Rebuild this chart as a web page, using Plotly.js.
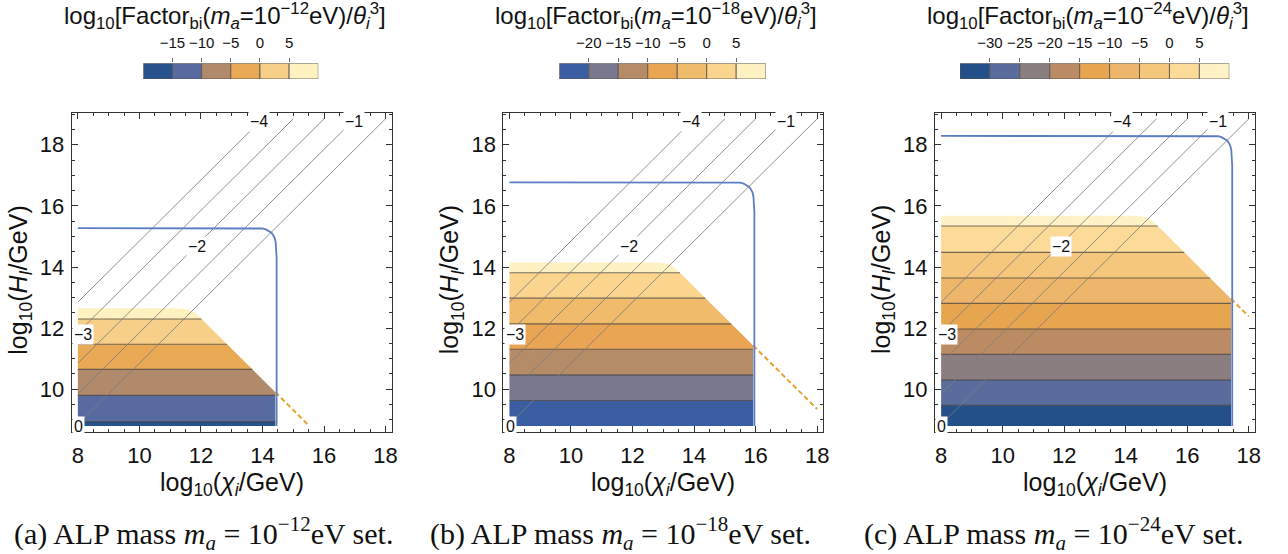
<!DOCTYPE html>
<html><head><meta charset="utf-8">
<script src="https://cdn.plot.ly/plotly-3.0.1.min.js"></script>
<style>html,body{margin:0;padding:0;background:#fff;}#chart{width:1288px;height:554px;}</style>
</head><body><div id="chart"></div>
<script>
// ================= DATA =================
const massExp = ['−12', '−18', '−24'];
const captionTags = ['(a)', '(b)', '(c)'];

// colour-bar levels of log10[Factor_bi / theta^3]
const levelsA = [-20, -15, -10, -5, 0, 5, 10];
const levelsB = [-25, -20, -15, -10, -5, 0, 5, 10];
const levelsC = [-35, -30, -25, -20, -15, -10, -5, 0, 5, 10];
const colorsA = ['#27528b', '#586ba0', '#b08a6a', '#eaa955', '#f8cf89', '#fff2c0'];
const colorsB = ['#3b5ea2', '#78788e', '#b68c67', '#e9a554', '#f0bb6a', '#fbd48e', '#fff2c2'];
const colorsC = ['#245089', '#5a6c9c', '#8a7e80', '#bb8c64', '#e8a550', '#eeb66a', '#f5c77d', '#fcdb98', '#fff2c6'];

// log10(H_I/GeV) where the colour band edges sit (bottom of region ... top of region)
const bandYA = [8.80, 8.94, 9.80, 10.65, 11.47, 12.30, 12.65];
const bandYB = [8.80, 9.63, 10.47, 11.31, 12.14, 12.98, 13.81, 14.15];
const bandYC = [8.80, 9.47, 10.30, 11.14, 11.97, 12.81, 13.64, 14.48, 15.34, 15.68];

// right / top outline of the filled region (from bottom-right to top-left)
const edgeXA = [14.42, 14.42, 12.02, 11.90, 11.75, 11.55, 11.30, 8.00];
const edgeYA = [8.80, 9.90, 12.30, 12.42, 12.54, 12.62, 12.65, 12.65];
const edgeXB = [15.92, 15.92, 13.52, 13.40, 13.25, 13.05, 12.80, 8.00];
const edgeYB = [8.80, 11.43, 13.83, 13.94, 14.06, 14.12, 14.15, 14.15];
const edgeXC = [17.42, 17.42, 15.02, 14.90, 14.75, 14.55, 14.30, 8.00];
const edgeYC = [8.80, 12.96, 15.36, 15.47, 15.59, 15.66, 15.68, 15.68];
const regionLeftX = [8.00, 8.00, 8.00];

// blue boundary curve
const blueXA = [8.00, 13.84, 14.00, 14.11, 14.21, 14.29, 14.35, 14.40, 14.43, 14.44, 14.455, 14.46, 14.46];
const blueYA = [15.27, 15.27, 15.26, 15.23, 15.18, 15.12, 15.04, 14.94, 14.80, 14.66, 14.45, 14.30, 8.80];
const blueXB = [8.00, 15.34, 15.50, 15.61, 15.71, 15.79, 15.85, 15.90, 15.93, 15.94, 15.955, 15.96, 15.96];
const blueYB = [16.77, 16.77, 16.76, 16.73, 16.68, 16.62, 16.54, 16.44, 16.30, 16.16, 15.95, 15.80, 8.80];
const blueXC = [8.00, 16.84, 17.00, 17.11, 17.21, 17.29, 17.35, 17.40, 17.43, 17.44, 17.455, 17.46, 17.46];
const blueYC = [18.29, 18.29, 18.28, 18.25, 18.20, 18.14, 18.06, 17.96, 17.82, 17.68, 17.47, 17.32, 8.80];

// orange dashed continuation of the slanted edge
const dashXA = [14.42, 15.52], dashYA = [9.90, 8.80];
const dashXB = [15.92, 18.00], dashYB = [11.43, 9.35];
const dashXC = [17.42, 18.00], dashYC = [12.96, 12.38];

// grey contour lines (same in all panels)
const contourLevels = ['0', '−1', '−2', '−3', '−4'];
const lineXStart = [8.00, 8.00, 8.00, 8.00, 8.00];
const lineYStart = [8.85, 9.85, 10.85, 11.85, 12.85];
const lineXEnd = [18.00, 17.00, 16.00, 15.00, 14.00];
const lineYEnd = [18.85, 18.85, 18.85, 18.85, 18.85];
const labelX = [8.02, 16.99, 11.88, 8.18, 13.89];
const labelY = [8.78, 18.76, 14.66, 11.80, 18.76];

// axis ticks
const xTicks = [8, 10, 12, 14, 16, 18];
const yTicks = [10, 12, 14, 16, 18];

// ================= BUILD =================
const W = 1288, H = 554;
const panelLeftPx = [71.7, 503.3, 935.0];
const panelW = 320;
const frameTopPx = 112.7, frameBotPx = 432.0;
const cbarPx = [[143.3, 318.3], [559.3, 765.7], [960.0, 1229.3]];
const cbarTop = 63.3, cbarBot = 79.0;

const panels = [
  {lev: levelsA, col: colorsA, bandY: bandYA, ex: edgeXA, ey: edgeYA, bx: blueXA, by: blueYA, dx: dashXA, dy: dashYA},
  {lev: levelsB, col: colorsB, bandY: bandYB, ex: edgeXB, ey: edgeYB, bx: blueXB, by: blueYB, dx: dashXB, dy: dashYB},
  {lev: levelsC, col: colorsC, bandY: bandYC, ex: edgeXC, ey: edgeYC, bx: blueXC, by: blueYC, dx: dashXC, dy: dashYC}
];

function xRight(ex, ey, y) {
  for (let i = 0; i < ex.length - 1; i++) {
    const y0 = ey[i], y1 = ey[i + 1];
    if (y1 > y0 && y >= y0 && y <= y1) return ex[i] + (ex[i + 1] - ex[i]) * (y - y0) / (y1 - y0);
  }
  return ex[ex.length - 1];
}
function bandPoly(ex, ey, ya, yb, left) {
  const xs = [left, xRight(ex, ey, ya)], ys = [ya, ya];
  for (let i = 0; i < ex.length; i++) if (ey[i] > ya && ey[i] < yb) { xs.push(ex[i]); ys.push(ey[i]); }
  xs.push(xRight(ex, ey, yb)); ys.push(yb);
  xs.push(left); ys.push(yb);
  xs.push(left); ys.push(ya);
  return {xs, ys};
}

const traces = [];
const layout = {
  width: W, height: H, margin: {l: 0, r: 0, t: 0, b: 0},
  paper_bgcolor: '#fff', plot_bgcolor: '#fff', showlegend: false,
  annotations: [], font: {family: 'Liberation Sans, Arial, sans-serif', color: '#111'}
};
const sansFont = 'Liberation Sans, Arial, sans-serif';

panels.forEach((p, i) => {
  const xa = 'x' + (i === 0 ? '' : i + 1), ya = 'y' + (i === 0 ? '' : i + 1);
  const xk = 'xaxis' + (i === 0 ? '' : i + 1), yk = 'yaxis' + (i === 0 ? '' : i + 1);
  const left = regionLeftX[i];
  // colour bands
  for (let b = 0; b < p.bandY.length - 1; b++) {
    const poly = bandPoly(p.ex, p.ey, p.bandY[b], p.bandY[b + 1], left);
    traces.push({type: 'scatter', mode: 'lines', x: poly.xs, y: poly.ys, xaxis: xa, yaxis: ya,
      fill: 'toself', fillcolor: p.col[b], line: {width: 0, color: p.col[b]}, hoverinfo: 'skip'});
  }
  // band edge lines
  const lx = [], ly = [];
  for (let b = 1; b < p.bandY.length - 1; b++) {
    lx.push(left, xRight(p.ex, p.ey, p.bandY[b]), null);
    ly.push(p.bandY[b], p.bandY[b], null);
  }
  traces.push({type: 'scatter', mode: 'lines', x: lx, y: ly, xaxis: xa, yaxis: ya,
    line: {width: 1.1, color: 'rgba(60,55,50,0.7)'}, hoverinfo: 'skip'});
  // grey contour lines
  const gx = [], gy = [];
  for (let k = 0; k < contourLevels.length; k++) {
    gx.push(lineXStart[k], lineXEnd[k], null);
    gy.push(lineYStart[k], lineYEnd[k], null);
  }
  traces.push({type: 'scatter', mode: 'lines', x: gx, y: gy, xaxis: xa, yaxis: ya,
    line: {width: 1, color: 'rgba(125,125,125,0.85)'}, hoverinfo: 'skip'});
  // orange dashed
  traces.push({type: 'scatter', mode: 'lines', x: p.dx, y: p.dy, xaxis: xa, yaxis: ya,
    line: {width: 2, color: '#e9a234', dash: '5px,3px'}, hoverinfo: 'skip'});
  // blue curve
  traces.push({type: 'scatter', mode: 'lines', x: p.bx, y: p.by, xaxis: xa, yaxis: ya,
    line: {width: 1.8, color: '#5b7ec2'}, hoverinfo: 'skip'});

  // axes
  const axCommon = {
    ticks: 'inside', ticklen: 6, tickwidth: 1, tickcolor: '#333', mirror: 'allticks',
    showline: true, linecolor: '#333', linewidth: 1, showgrid: false, zeroline: false,
    tickfont: {size: 22, family: sansFont, color: '#111'},
    minor: {dtick: 0.5, ticks: 'inside', ticklen: 3, tickcolor: '#333', showgrid: false}
  };
  layout[xk] = Object.assign({}, axCommon, {
    domain: [panelLeftPx[i] / W, (panelLeftPx[i] + panelW) / W], range: [7.8, 18.2],
    tickvals: xTicks, anchor: ya, ticklabelstandoff: 4
  });
  layout[yk] = Object.assign({}, axCommon, {
    domain: [1 - frameBotPx / H, 1 - frameTopPx / H], range: [8.6, 19.05],
    tickvals: yTicks, anchor: xa, ticklabelstandoff: 2
  });

  // colour bar (bars on their own small axis)
  const cx = 'x' + (i + 4), cy = 'y' + (i + 4);
  const mids = [], widths = [];
  for (let b = 0; b < p.lev.length - 1; b++) { mids.push((p.lev[b] + p.lev[b + 1]) / 2); widths.push(p.lev[b + 1] - p.lev[b]); }
  traces.push({type: 'bar', x: mids, y: mids.map(() => 1), base: 0, width: widths, xaxis: cx, yaxis: cy,
    marker: {color: p.col, line: {color: 'rgba(90,85,80,0.85)', width: 1}}, hoverinfo: 'skip'});
  layout['xaxis' + (i + 4)] = {
    domain: [cbarPx[i][0] / W, cbarPx[i][1] / W], range: [p.lev[0], p.lev[p.lev.length - 1]],
    anchor: cy, side: 'top', tickvals: p.lev.slice(1, -1), ticks: 'outside', ticklen: 4,
    tickcolor: '#666', showgrid: false, zeroline: false, showline: false, tickangle: 0,
    tickfont: {size: 15, family: sansFont, color: '#111'}, ticklabelstandoff: 4
  };
  layout['yaxis' + (i + 4)] = {domain: [1 - cbarBot / H, 1 - cbarTop / H], range: [0, 1], anchor: cx, visible: false};

  const cxPx = panelLeftPx[i] + panelW / 2;
  // title
  layout.annotations.push({xref: 'paper', yref: 'paper', x: (cxPx - 7) / W, y: 1 - 16 / H, xanchor: 'center', yanchor: 'middle',
    showarrow: false, font: {size: 24, family: sansFont, color: '#111'},
    text: 'log<sub>10</sub>[Factor<sub>bi</sub>(<i>m<sub>a</sub></i>=10<sup>' + massExp[i] + '</sup>eV)/<i>θ<sub>i</sub></i><sup>3</sup>]'});
  // axis titles
  layout.annotations.push({xref: 'paper', yref: 'paper', x: cxPx / W, y: 1 - 484 / H, xanchor: 'center', yanchor: 'middle',
    showarrow: false, font: {size: 25, family: sansFont, color: '#111'},
    text: 'log<sub>10</sub>(<i>χ<sub>i</sub></i>/GeV)'});
  layout.annotations.push({xref: 'paper', yref: 'paper', x: (panelLeftPx[i] - 52) / W, y: 1 - 280 / H, xanchor: 'center', yanchor: 'middle',
    textangle: -90, showarrow: false, font: {size: 25, family: sansFont, color: '#111'},
    text: 'log<sub>10</sub>(<i>H<sub>I</sub></i>/GeV)'});
  // caption
  const capCenters = [203, 620, 1053];
  layout.annotations.push({xref: 'paper', yref: 'paper', x: capCenters[i] / W, y: 1 - 533 / H, xanchor: 'center', yanchor: 'middle',
    showarrow: false, font: {size: 30, family: 'Liberation Serif, Times New Roman, serif', color: '#111'},
    text: captionTags[i] + ' ALP mass <i>m<sub>a</sub></i> = 10<sup>' + massExp[i] + '</sup>eV set.'});
  // contour labels
  for (let k = 0; k < contourLevels.length; k++) {
    layout.annotations.push({xref: xa, yref: ya, x: labelX[k], y: labelY[k], xanchor: 'center', yanchor: 'middle',
      showarrow: false, bgcolor: '#fff', borderpad: 1, font: {size: 16, family: sansFont, color: '#111'},
      text: contourLevels[k]});
  }
});

Plotly.newPlot('chart', traces, layout, {staticPlot: true});
</script>
</body></html>
